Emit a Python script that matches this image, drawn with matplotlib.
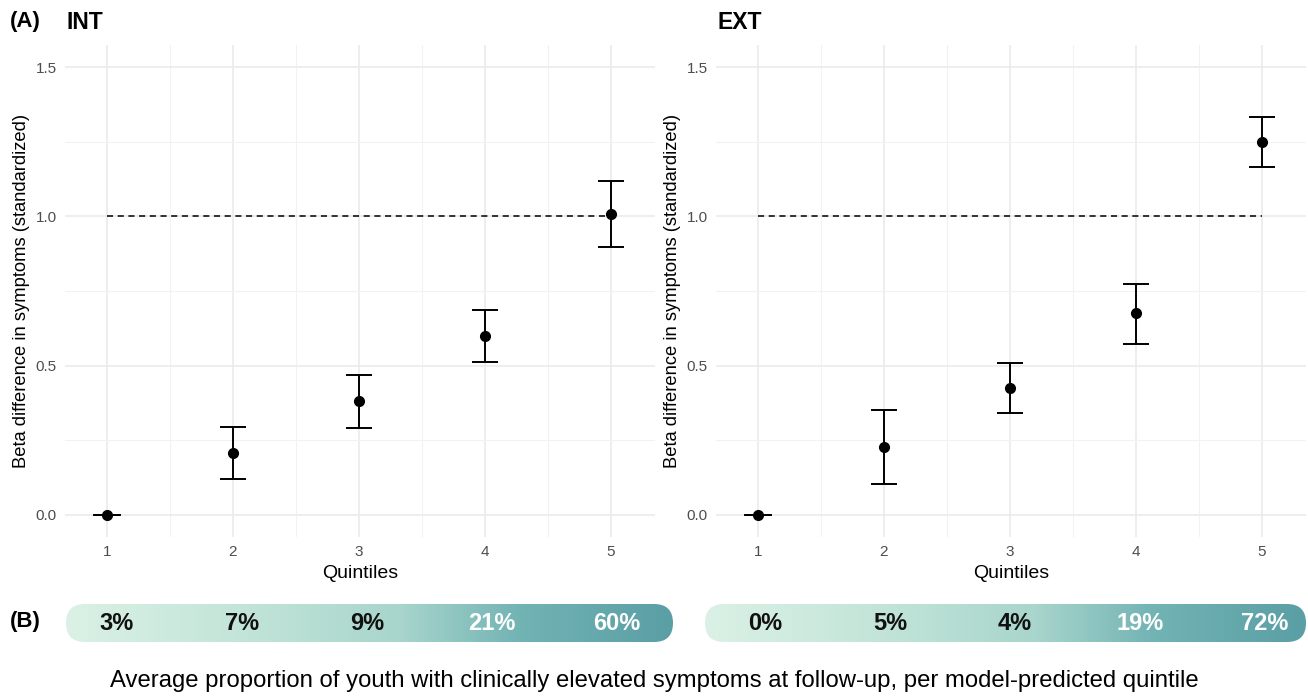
import numpy as np
import matplotlib.pyplot as plt
from matplotlib.patches import FancyBboxPatch
from matplotlib.colors import LinearSegmentedColormap

plt.rcParams['font.family'] = ['Liberation Sans', 'DejaVu Sans']

# data
quintiles = [1, 2, 3, 4, 5]
int_beta = [0.0, 0.207, 0.382, 0.599, 1.008]
int_lo = [0.0, 0.120, 0.291, 0.512, 0.897]
int_hi = [0.0, 0.295, 0.469, 0.686, 1.118]
ext_beta = [0.0, 0.228, 0.425, 0.676, 1.249]
ext_lo = [0.0, 0.104, 0.342, 0.573, 1.165]
ext_hi = [0.0, 0.352, 0.509, 0.773, 1.333]
int_prop = ['3%', '7%', '9%', '21%', '60%']
ext_prop = ['0%', '5%', '4%', '19%', '72%']

W, H = 1308, 696
fig = plt.figure(figsize=(W / 100, H / 100), dpi=100)


def px_box(x0, y0, x1, y1):
    # pixel box (top-left origin) -> figure fraction rect
    return [x0 / W, 1 - y1 / H, (x1 - x0) / W, (y1 - y0) / H]


def draw_panel(rect, beta, lo, hi, title):
    ax = fig.add_axes(rect)
    beta = np.array(beta)
    yerr = [beta - np.array(lo), np.array(hi) - beta]
    ax.plot([1, 5], [1, 1], ls=(0, (4, 3)), color='black', lw=1.1, zorder=2)
    ax.errorbar(quintiles, beta, yerr=yerr, fmt='o', color='black', ms=7,
                capsize=9.5, elinewidth=1.4, capthick=1.4, zorder=3)
    # zero-width CI at quintile 1 still shows a cap-like dash
    ax.plot([0.9, 1.1], [beta[0], beta[0]], color='black', lw=1.4, zorder=3)
    ax.set_xlim(0.667, 5.35)
    ax.set_ylim(-0.075, 1.575)
    ax.set_xticks(quintiles)
    ax.set_yticks([0.0, 0.5, 1.0, 1.5])
    ax.set_yticklabels(['0.0', '0.5', '1.0', '1.5'])
    ax.set_xticks([1.5, 2.5, 3.5, 4.5], minor=True)
    ax.set_yticks([0.25, 0.75, 1.25], minor=True)
    ax.grid(which='major', color='#ebebeb', lw=1.2, zorder=0)
    ax.grid(which='minor', color='#f2f2f2', lw=0.8, zorder=0)
    ax.set_axisbelow(True)
    for s in ax.spines.values():
        s.set_visible(False)
    ax.tick_params(which='both', length=0, labelsize=11, labelcolor='#4d4d4d', pad=6)
    ax.set_xlabel('Quintiles', fontsize=14, labelpad=4)
    ax.set_ylabel('Beta difference in symptoms (standardized)', fontsize=13.2, labelpad=4)
    ax.text(0.003, 1.045, title, transform=ax.transAxes, fontsize=16.5, fontweight='bold',
            ha='left', va='center')
    return ax


draw_panel(px_box(65, 45, 655, 537), int_beta, int_lo, int_hi, 'INT')
draw_panel(px_box(716, 45, 1306, 537), ext_beta, ext_lo, ext_hi, 'EXT')

cmap = LinearSegmentedColormap.from_list('teal', [
    (0.0, '#dbf1e5'), (0.3, '#c2e4d8'), (0.55, '#a8d5cc'),
    (0.75, '#72b3b4'), (1.0, '#5a9fa5')])


def draw_bar(x0, x1, labels, q1_px):
    y0, y1 = 604, 642
    w, h = x1 - x0, y1 - y0
    ax = fig.add_axes(px_box(x0, y0, x1, y1))
    ax.set_xlim(0, w)
    ax.set_ylim(0, h)
    ax.axis('off')
    grad = np.linspace(0, 1, 512).reshape(1, -1)
    im = ax.imshow(grad, cmap=cmap, extent=[0, w, 0, h], aspect='auto')
    box = FancyBboxPatch((0, 0), w, h, boxstyle='round,pad=0,rounding_size=%g' % (h / 2),
                         facecolor='none', edgecolor='none', transform=ax.transData)
    ax.add_patch(box)
    im.set_clip_path(box)
    for i, lab in enumerate(labels):
        xq = q1_px + i * 125 - x0
        col = 'white' if i >= 3 else '#111111'
        ax.text(xq, h / 2, lab, ha='center', va='center', fontsize=17,
                fontweight='bold', color=col)


draw_bar(66, 673, int_prop, 117)
draw_bar(705, 1306, ext_prop, 765)

fig.text(10 / W, 1 - 22 / H, '(A)', fontsize=16, fontweight='bold', ha='left', va='center')
fig.text(10 / W, 1 - 622 / H, '(B)', fontsize=16, fontweight='bold', ha='left', va='center')
fig.text(654 / W, 1 - 681 / H,
         'Average proportion of youth with clinically elevated symptoms at follow-up, per model-predicted quintile',
         fontsize=17.2, ha='center', va='center')

fig.savefig('out.png', dpi=100)
